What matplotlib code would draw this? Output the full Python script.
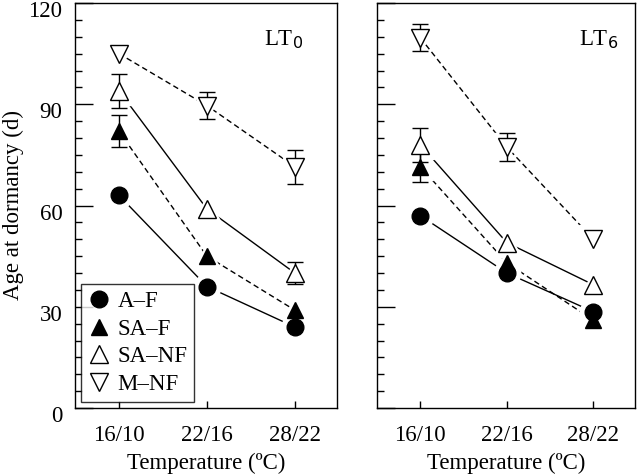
import numpy as np
import matplotlib.pyplot as plt
import matplotlib.transforms as mtransforms
from matplotlib.ticker import MultipleLocator

plt.rcParams['font.family'] = ['Liberation Serif', 'DejaVu Serif']

temps = ["16/10", "22/16", "28/22"]
series = ["A\u2013F", "SA\u2013F", "SA\u2013NF", "M\u2013NF"]

# LT0 panel
lt0_af = [63, 36, 24]
lt0_saf = [82, 45, 29]
lt0_sanf = [94, 59, 40]
lt0_mnf = [105, 89.6, 71.5]
lt0_af_err = [0, 0, 0]
lt0_saf_err = [4.7, 0, 0]
lt0_sanf_err = [5, 0, 3.3]
lt0_mnf_err = [0, 4, 5]

# LT6 panel
lt6_af = [57, 40, 28.5]
lt6_saf = [71.5, 43, 26]
lt6_sanf = [78, 49, 36.5]
lt6_mnf = [109.7, 77.3, 50]
lt6_af_err = [0, 0, 0]
lt6_saf_err = [4.5, 0, 0]
lt6_sanf_err = [5, 0, 0]
lt6_mnf_err = [4, 4.2, 0]

markers = ["o", "^", "^", "v"]
faces = ["black", "black", "white", "white"]
styles = ["-", (0, (4, 2.5)), "-", (0, (4, 2.5))]
sizes = [12, 12, 12.5, 12.5]
fs = 16.5

fig = plt.figure(figsize=(6.4, 4.74), dpi=100)
ax1 = fig.add_axes([75 / 640, 66 / 474, 262 / 640, 405 / 474])
ax2 = fig.add_axes([377 / 640, 66 / 474, 258 / 640, 405 / 474])

panels = [
    (ax1, [lt0_af, lt0_saf, lt0_sanf, lt0_mnf],
     [lt0_af_err, lt0_saf_err, lt0_sanf_err, lt0_mnf_err], "LT$_0$", 0.87),
    (ax2, [lt6_af, lt6_saf, lt6_sanf, lt6_mnf],
     [lt6_af_err, lt6_saf_err, lt6_sanf_err, lt6_mnf_err], "LT$_6$", 0.935),
]

x = np.arange(len(temps))
for ax, data, errs, title, tx in panels:
    for i in range(4):
        ax.plot(x, data[i], color="black", lw=1.0, ls=styles[i], zorder=1)
    for i in range(4):
        # white halo so the lines stop short of the symbols
        ax.plot(x, data[i], ls="none", marker=markers[i], ms=sizes[i] + 7,
                mfc="white", mec="white", zorder=2)
    for i in range(4):
        e = np.array(errs[i])
        m = e > 0
        ax.errorbar(x[m], np.array(data[i])[m], yerr=e[m], fmt="none",
                    ecolor="black", elinewidth=1.0, capsize=6, capthick=1.0,
                    zorder=2.5)
    for i in range(4):
        ax.plot(x, data[i], ls="none", marker=markers[i], ms=sizes[i],
                mfc=faces[i], mec="black", mew=1.0, zorder=3, label=series[i])

    ax.set_xlim(-0.5, 2.48)
    ax.set_ylim(0, 120)
    ax.set_xticks(x)
    ax.set_xticklabels(temps)
    ax.yaxis.set_major_locator(MultipleLocator(30))
    ax.yaxis.set_minor_locator(MultipleLocator(5))
    ax.tick_params(axis="both", which="major", direction="in", labelsize=fs,
                   width=1.0, right=False, top=False)
    ax.tick_params(axis="y", which="major", length=13, pad=9)
    ax.tick_params(axis="x", which="major", length=5, pad=12)
    ax.tick_params(axis="y", which="minor", direction="in", length=5, width=1.0)
    ax.set_xlabel("Temperature (\u00baC)", fontsize=fs, labelpad=5)
    ax.text(tx, 0.91, title, transform=ax.transAxes, ha="right", va="center",
            fontsize=fs)
    for s in ax.spines.values():
        s.set_linewidth(1.0)

# tick labels on the y axis sit a little below their ticks
shift = mtransforms.ScaledTranslation(0, -6 / 100, fig.dpi_scale_trans)
for lab in ax1.get_yticklabels():
    lab.set_transform(lab.get_transform() + shift)

ax1.set_ylabel("Age at dormancy (d)", fontsize=fs, labelpad=3)
ax2.set_yticklabels([])

leg = ax1.legend(loc="lower left", bbox_to_anchor=(0.0, 0.0), fontsize=fs,
                 frameon=True, fancybox=False, edgecolor="black",
                 handletextpad=0.3, borderpad=0.3, labelspacing=0.3,
                 handlelength=1.0, borderaxespad=0.25)
leg.get_frame().set_linewidth(1.0)

fig.savefig("out.png", dpi=100)
